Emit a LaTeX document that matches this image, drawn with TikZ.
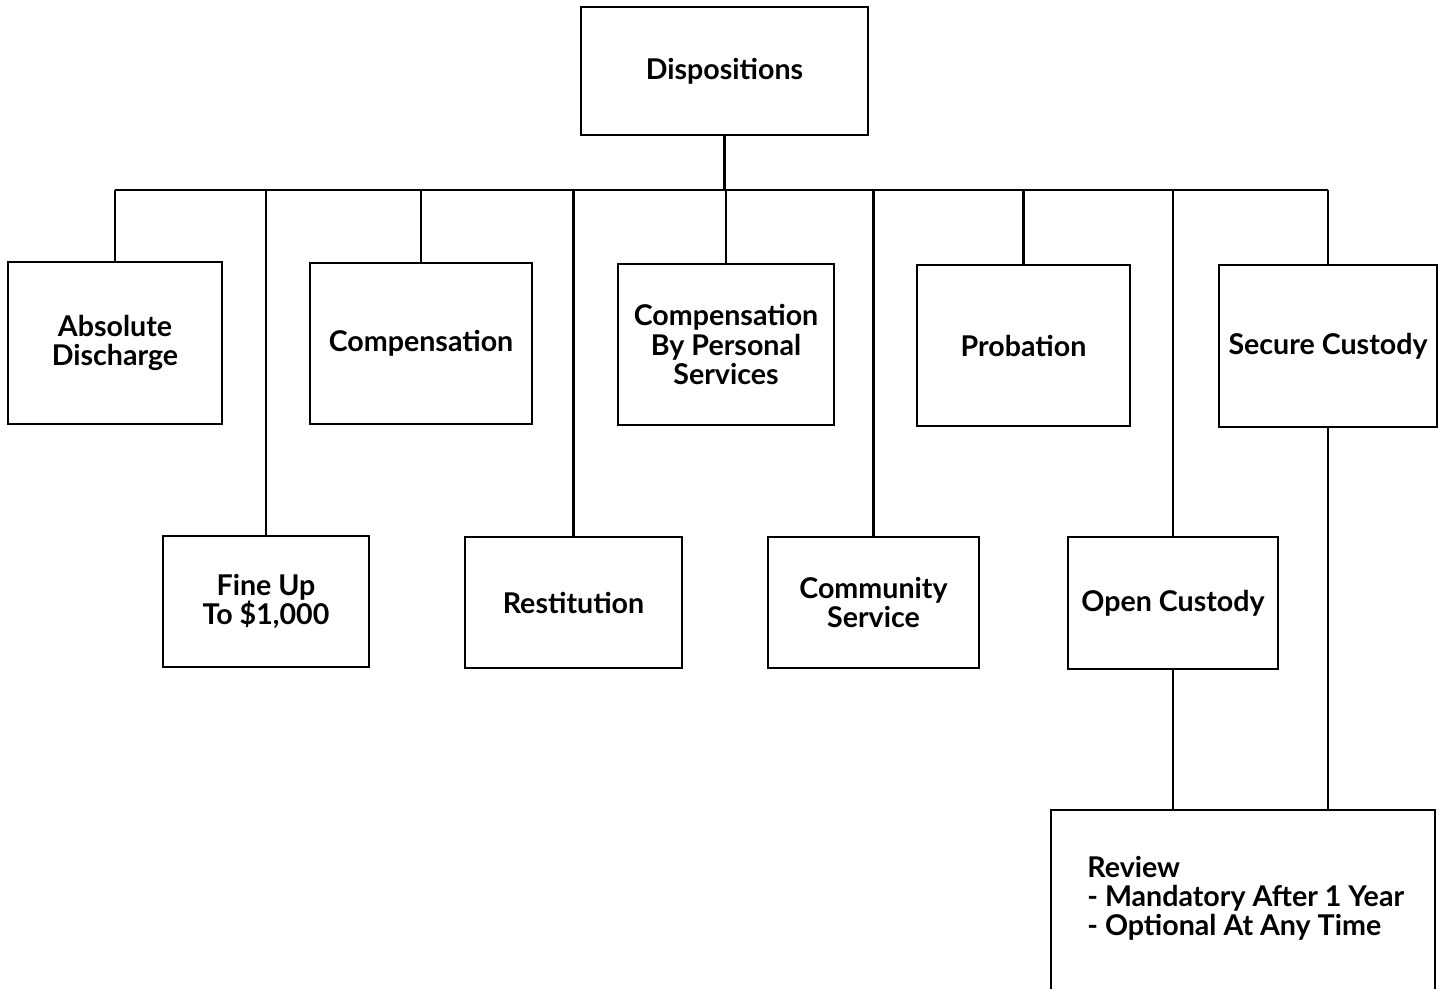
\documentclass[tikz,border=0pt]{standalone}
\usepackage{fontspec}
\setmainfont{Lato}
\begin{document}
\begin{tikzpicture}[x=0.5pt,y=-0.5pt,
  every node/.style={font=\bfseries\fontsize{14.3}{14.6}\selectfont},
  box/.style={draw,line width=1.1pt,rectangle,align=center,inner sep=0pt},
  conn/.style={line width=1.1pt}]
\useasboundingbox[fill=white] (0,0) rectangle (1447,989);
\node[box,minimum width=143.5pt,minimum height=64pt] (disp) at (724.5,71) {Dispositions};
\node[box,minimum width=107pt,minimum height=81pt] (absd) at (115,343) {Absolute\\Discharge};
\node[box,minimum width=103pt,minimum height=65.5pt] (fine) at (266,601.5) {Fine Up\\To \$1,000};
\node[box,minimum width=111pt,minimum height=80.5pt] (comp) at (421,343.5) {Compensation};
\node[box,minimum width=108.5pt,minimum height=65.5pt] (rest) at (573.5,602.5) {Restitution};
\node[box,minimum width=108pt,minimum height=80.5pt] (cbps) at (726,344.5) {Compensation\\By Personal\\Services};
\node[box,minimum width=105.5pt,minimum height=65.5pt] (comm) at (873.5,602.5) {Community\\Service};
\node[box,minimum width=106.5pt,minimum height=80.5pt] (prob) at (1023.5,345.5) {Probation};
\node[box,minimum width=105pt,minimum height=66pt] (open) at (1173,603) {Open Custody};
\node[box,minimum width=109pt,minimum height=81pt] (secu) at (1328,346) {Secure Custody};
\node[box,minimum width=192pt,minimum height=100pt] (rev) at (1243,910) {};
\node[anchor=west,align=left,inner sep=0pt] (revtext) at (1087,898) {Review\\- Mandatory After 1 Year\\- Optional At Any Time};
\coordinate (busy) at (0,190);
\draw[conn] (disp.south) -- (disp.south |- busy);
\draw[conn] (absd.north |- busy) -- (secu.north |- busy);
\foreach \n in {absd,fine,comp,rest,cbps,comm,prob,open,secu}
  \draw[conn] (\n.north) -- (\n.north |- busy);
\draw[conn] (open.south) -- (open.south |- rev.north);
\draw[conn] (secu.south) -- (secu.south |- rev.north);
\end{tikzpicture}
\end{document}
